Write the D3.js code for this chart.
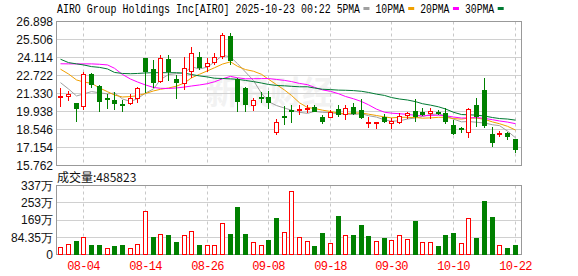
<!DOCTYPE html>
<html>
<head>
<meta charset="utf-8">
<script src="https://cdn.jsdelivr.net/npm/d3@7"></script>
<style>
  body { margin: 0; background: #fff; }
  text { font-family: "Liberation Sans", Arial, sans-serif; }
  .mono { font-family: "Liberation Mono", "DejaVu Sans Mono", monospace; font-size: 12px; letter-spacing: -0.7px; white-space: pre; }
</style>
</head>
<body>
<div id="chart"></div>
<script>
// trading days shown
var dates = ["07-30","07-31","08-01","08-04","08-05","08-06","08-07","08-08","08-11","08-12",
  "08-13","08-14","08-15","08-18","08-19","08-20","08-21","08-22","08-25","08-26",
  "08-27","08-28","08-29","09-02","09-03","09-04","09-05","09-08","09-09","09-10",
  "09-11","09-12","09-15","09-16","09-17","09-18","09-19","09-22","09-23","09-24",
  "09-25","09-26","09-29","09-30","10-01","10-02","10-03","10-06","10-07","10-08",
  "10-09","10-10","10-13","10-14","10-15","10-16","10-17","10-20","10-21","10-22"];

var opens = [21.10,21.08,20.57,20.26,22.84,21.94,21.00,20.83,20.55,20.49,
  20.90,24.08,23.21,22.25,23.98,22.43,22.05,23.00,24.14,23.41,
  23.67,24.14,25.79,22.43,21.73,20.38,21.08,21.08,18.24,19.58,
  20.03,20.10,20.15,20.31,19.53,19.41,20.11,19.66,20.31,20.05,
  19.06,19.07,19.48,18.94,19.02,19.58,19.97,19.87,19.74,19.87,
  19.79,18.89,18.66,18.24,20.44,21.60,18.19,18.22,18.29,17.80];
var highs = [21.73,21.52,20.62,23.02,22.90,21.99,21.29,21.47,20.83,21.29,
  21.86,24.10,23.93,24.32,24.32,22.76,24.18,24.96,24.53,24.05,
  24.45,26.00,26.00,22.51,21.80,20.96,21.47,21.50,19.33,20.40,
  20.44,20.44,20.44,20.44,19.66,20.05,20.44,20.44,20.57,20.88,
  19.48,19.14,19.74,19.41,19.79,19.92,20.88,20.18,20.18,20.05,
  20.18,19.27,18.76,20.18,20.96,22.51,18.76,18.45,18.37,17.80];
var lows = [20.26,20.75,19.14,20.05,21.73,19.92,20.13,20.05,19.87,20.44,
  20.57,21.37,21.73,22.12,22.30,20.90,21.60,22.53,23.15,22.97,
  23.54,23.98,23.54,19.92,19.92,19.97,20.57,20.10,18.11,18.89,
  19.02,19.66,19.79,19.87,18.96,19.41,19.53,19.27,19.66,19.33,
  18.63,18.55,19.07,18.55,18.94,19.33,19.14,19.58,19.33,19.66,
  18.94,18.11,18.24,17.90,18.76,18.63,17.20,17.93,17.72,16.74];
var closes = [21.15,21.29,20.13,22.84,21.99,20.69,20.83,20.52,20.50,21.00,
  21.78,23.02,22.12,24.11,22.97,22.12,23.33,24.45,23.28,23.67,
  24.14,25.87,23.85,20.65,20.44,20.83,20.96,20.62,19.14,19.48,
  19.98,20.16,20.20,19.92,19.10,19.87,19.66,20.18,19.72,19.41,
  19.10,19.12,19.10,19.20,19.58,19.79,19.53,19.66,19.97,19.82,
  19.10,18.19,18.61,20.10,19.53,18.81,17.52,18.27,17.98,16.95];
// volume in 万 shares
var volumes = [35.6,50.2,66.4,84.2,47,47,30.8,42,47,30.8,
  50,212,86,100,95.6,63,95.6,115,47,47,
  47,154,100,232,100,61.6,47,71,178,110,
  309,86,66,42,105,57,190,94,96,144,
  91,66,81,71,94,76,164,62,62,42,
  96,105,57,177,81,261,183,47,32,48.5823];

// MA values before enough in-window history exists
var ma5Head  = [22.17,21.68,21.14,21.29];
var ma10Head = [23.21,22.84,22.38,22.22,22.12,21.76,21.47,21.21,21.06];
var ma20Head = [23.63,23.62,23.62,23.62,23.62,23.59,23.54,23.28,22.80,22.45,
  22.22,21.99,21.80,21.73,21.72,21.76,21.83,21.91,21.99];
var ma30Head = [23.98,23.72,23.62,23.54,23.41,23.35,23.23,22.96,22.88,22.86,
  22.88,22.92,22.94,22.94,22.94,22.94,22.90,22.80,22.69,22.61,
  22.51,22.49,22.46,22.43,22.34,22.25,22.14,22.03,21.95];

var priceTicks = [26.898,25.506,24.114,22.722,21.330,19.938,18.546,17.154,15.762];
var volTicks = [0,84.35,168.7,253.05,337.4];
var volTickLabels = ["0","84.35万","169万","253万","337万"];
var dateTicks = ["08-04","08-14","08-26","09-08","09-18","09-30","10-10","10-22"];
var maNames = ["5PMA","10PMA","20PMA","30PMA"];

var titleText = "AIRO Group Holdings Inc[AIRO] 2025-10-23 00:22";
var volLabel = "成交量:485823";

var RED = "#ff0000", GREEN = "#008000";
var maColors = ["#a0a0a0","#f0a000","#ff00ff","#007a33"];

var W = 578, H = 276;
var left = 56.5, right = 521.5;
var charW = 5.95;

function movingAvg(n, head) {
  return closes.map(function(c, i) {
    return i < head.length ? head[i] : d3.mean(closes.slice(i - n + 1, i + 1));
  });
}
var maSeries = [movingAvg(5, ma5Head), movingAvg(10, ma10Head), movingAvg(20, ma20Head), movingAvg(30, ma30Head)];

var svg = d3.select("#chart").append("svg")
  .attr("width", W).attr("height", H);

var x = d3.scaleBand().domain(dates).range([56.5, 518.5]).padding(0);
function cx(d) { return Math.round(x(d) + x.bandwidth() / 2) + 0.5; }

var yP = d3.scaleLinear().domain([15.762, 26.898]).range([165.5, 21.5]);
var yV = d3.scaleLinear().domain([0, 337.4]).range([254.5, 185.5]);
function crisp(v) { return Math.round(v - 0.5) + 0.5; }

// watermark
svg.append("text")
  .attr("x", 270).attr("y", 104)
  .attr("text-anchor", "middle")
  .style("font-family", "'Noto Sans CJK SC', sans-serif")
  .style("font-size", "32px")
  .style("font-weight", "bold")
  .attr("fill", "#f2f2f2")
  .text("新浪财经");

// price gridlines
svg.append("g").selectAll("line").data(priceTicks).join("line")
  .attr("x1", left).attr("x2", right)
  .attr("y1", function(d) { return crisp(yP(d)); })
  .attr("y2", function(d) { return crisp(yP(d)); })
  .attr("stroke", "#d0d0d0");
// volume gridlines
svg.append("g").selectAll("line").data(volTicks).join("line")
  .attr("x1", left).attr("x2", right)
  .attr("y1", function(d) { return crisp(yV(d)); })
  .attr("y2", function(d) { return crisp(yV(d)); })
  .attr("stroke", "#d0d0d0");

// vertical dashed lines at date ticks
[[21.5, 165.5], [185.5, 254.5]].forEach(function(r) {
  svg.append("g").selectAll("line").data(dateTicks).join("line")
    .attr("x1", cx).attr("x2", cx)
    .attr("y1", r[0]).attr("y2", r[1])
    .attr("stroke", "#c8c8c8")
    .attr("stroke-dasharray", "3,3");
});

// panel frames
svg.append("rect").attr("x", left).attr("y", 21.5).attr("width", right - left).attr("height", 144)
  .attr("fill", "none").attr("stroke", "#999");
svg.append("rect").attr("x", left).attr("y", 185.5).attr("width", right - left).attr("height", 69)
  .attr("fill", "none").attr("stroke", "#999");

// moving averages
var line = d3.line()
  .x(function(d, i) { return cx(dates[i]); })
  .y(function(d) { return yP(d); });
svg.append("g").selectAll("path").data(maSeries).join("path")
  .attr("d", line)
  .attr("fill", "none")
  .attr("stroke", function(d, i) { return maColors[i]; })
  .attr("stroke-width", 1);

// candles
var idx = d3.range(dates.length);
var candles = svg.append("g").selectAll("g").data(idx).join("g");
candles.append("line")
  .attr("x1", function(i) { return cx(dates[i]); })
  .attr("x2", function(i) { return cx(dates[i]); })
  .attr("y1", function(i) { return Math.round(yP(highs[i])); })
  .attr("y2", function(i) { return Math.round(yP(lows[i])); })
  .attr("stroke", function(i) { return closes[i] >= opens[i] ? RED : GREEN; });
candles.each(function(i) {
  var g = d3.select(this);
  var c = cx(dates[i]);
  var up = closes[i] >= opens[i];
  var y1 = Math.round(yP(Math.max(opens[i], closes[i])));
  var y2 = Math.round(yP(Math.min(opens[i], closes[i])));
  var col = up ? RED : GREEN;
  if (y2 - y1 < 2) {
    g.append("rect").attr("x", c - 2.5).attr("y", y1).attr("width", 5).attr("height", 2).attr("fill", col);
  } else if (up) {
    g.append("rect").attr("x", c - 2).attr("y", y1 + 0.5).attr("width", 4).attr("height", y2 - y1 - 1)
      .attr("fill", "#fff").attr("stroke", col);
  } else {
    g.append("rect").attr("x", c - 2.5).attr("y", y1).attr("width", 5).attr("height", y2 - y1)
      .attr("fill", col);
  }
});

// volume bars (colour by close vs previous close)
svg.append("g").selectAll("rect").data(idx).join("rect")
  .each(function(i) {
    var up = i === 0 ? closes[i] >= opens[i] : closes[i] >= closes[i - 1];
    var c = cx(dates[i]);
    var top = Math.round(yV(volumes[i]));
    var bot = 255;
    var r = d3.select(this);
    if (up) {
      r.attr("x", c - 2).attr("y", top + 0.5).attr("width", 4).attr("height", bot - top - 1)
        .attr("fill", "#fff").attr("stroke", RED);
    } else {
      r.attr("x", c - 2.5).attr("y", top).attr("width", 5).attr("height", bot - top)
        .attr("fill", GREEN);
    }
  });

// price axis labels
svg.append("g").selectAll("text").data(priceTicks).join("text")
  .attr("x", 53).attr("y", function(d) { return yP(d); })
  .attr("dy", "0.36em")
  .attr("text-anchor", "end")
  .style("font-size", "12px")
  .attr("fill", "#111")
  .text(function(d) { return d.toFixed(3); });

// volume axis labels
svg.append("g").selectAll("text").data(volTicks).join("text")
  .attr("x", 53).attr("y", function(d) { return yV(d); })
  .attr("dy", "0.36em")
  .attr("text-anchor", "end")
  .style("font-size", "12px")
  .attr("fill", "#111")
  .text(function(d, i) { return volTickLabels[i]; });

// date labels
svg.append("g").selectAll("text").data(dateTicks).join("text")
  .attr("class", "mono")
  .attr("x", function(d) { return cx(d); })
  .attr("y", 270)
  .attr("text-anchor", "middle")
  .attr("fill", RED)
  .text(function(d) { return d; });

// volume label
svg.append("text")
  .attr("x", 57).attr("y", 182)
  .style("font-family", "'Noto Sans CJK SC', sans-serif")
  .style("font-size", "12px")
  .attr("fill", "#111")
  .text(volLabel);

// title + legend: one text element, fixed character cells
var head = svg.append("text").attr("class", "mono")
  .attr("y", 13).attr("fill", "#000")
  .style("letter-spacing", "0px");
head.append("tspan")
  .attr("x", 57)
  .attr("textLength", titleText.length * charW)
  .attr("lengthAdjust", "spacingAndGlyphs")
  .text(titleText);
var lx = 57 + (titleText.length + 1) * charW;
maNames.forEach(function(name, i) {
  head.append("tspan")
    .attr("x", lx)
    .attr("textLength", name.length * charW - 0.5)
    .attr("lengthAdjust", "spacingAndGlyphs")
    .text(name);
  var sx = lx + name.length * charW + 3;
  svg.append("rect").attr("x", sx).attr("y", 7).attr("width", 6).attr("height", 3)
    .attr("fill", maColors[i]);
  lx = sx + 12;
});
</script>
</body>
</html>
